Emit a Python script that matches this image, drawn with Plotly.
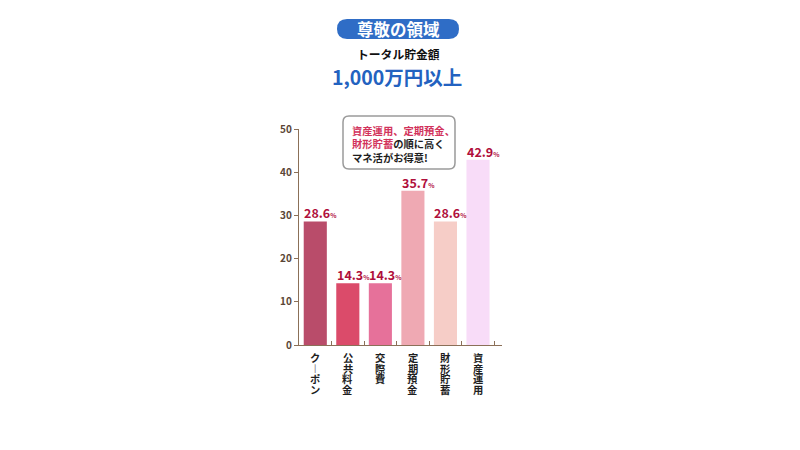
import plotly.graph_objects as go

# ---- data ----
categories = ["クーポン", "公共料金", "交際費", "定期預金", "財形貯蓄", "資産運用"]
values = [28.6, 14.3, 14.3, 35.7, 28.6, 42.9]
y_ticks = [0, 10, 20, 30, 40, 50]
title_badge = "尊敬の領域"
title_sub = "トータル貯金額"
title_main = "1,000万円以上"

# ---- style ----
bar_colors = ["#b94c6a", "#db4b6a", "#e6719a", "#efa9b3", "#f6cdc7", "#f8dcf8"]
label_color = "#b0103c"
axis_color = "#8b7058"
FONT = "Noto Sans CJK JP"

W_FIG, H_FIG = 800, 450
L, R, T, B = 299, 298, 129, 105
PW = W_FIG - L - R
PH = H_FIG - T - B


def px(x):
    return (x - L) / PW


def py(y):
    return (H_FIG - B - y) / PH


def rounded_rect(x0, y0, x1, y1, r):
    pts = [
        ("M", [(x0 + r, y0)]),
        ("L", [(x1 - r, y0)]),
        ("Q", [(x1, y0), (x1, y0 + r)]),
        ("L", [(x1, y1 - r)]),
        ("Q", [(x1, y1), (x1 - r, y1)]),
        ("L", [(x0 + r, y1)]),
        ("Q", [(x0, y1), (x0, y1 - r)]),
        ("L", [(x0, y0 + r)]),
        ("Q", [(x0, y0), (x0 + r, y0)]),
    ]
    s = ""
    for cmd, ps in pts:
        s += cmd + " " + " ".join(f"{px(a):.5f},{py(b):.5f}" for a, b in ps) + " "
    return s + "Z"


fig = go.Figure()
fig.add_trace(go.Bar(
    x=categories, y=values,
    marker=dict(color=bar_colors, line=dict(width=0)),
    hoverinfo="skip",
))

fig.update_layout(
    width=W_FIG, height=H_FIG,
    margin=dict(l=L, r=R, t=T, b=B, pad=0),
    paper_bgcolor="white", plot_bgcolor="white",
    bargap=0.29, showlegend=False,
    font=dict(family=FONT),
)
fig.update_xaxes(
    showline=True, linecolor=axis_color, linewidth=1.2,
    ticks="inside", ticklen=4, tickcolor=axis_color, tickwidth=1,
    tickson="boundaries", showticklabels=False, showgrid=False,
)
fig.update_yaxes(
    range=[0, 50], tickvals=y_ticks,
    showline=True, linecolor=axis_color, linewidth=1.2,
    ticks="outside", ticklen=4, tickcolor=axis_color, tickwidth=1,
    tickfont=dict(size=10, color="#5b4636", family=FONT, weight="bold"),
    showgrid=False, zeroline=False,
)

ann = []
# value labels
for c, v in zip(categories, values):
    ann.append(dict(
        x=c, y=v, xref="x", yref="y", xanchor="left", yanchor="bottom",
        xshift=-13, yshift=-3, showarrow=False,
        text=f"<b>{v}</b><span style='font-size:6.5px'><b>%</b></span>",
        font=dict(size=12.5, color=label_color, family=FONT),
    ))

# vertical category labels (upright characters stacked top to bottom)
for c in categories:
    for j, ch in enumerate(c):
        disp = "︱" if ch == "ー" else ch
        ann.append(dict(
            x=c, y=0, xref="x", yref="y", xanchor="center", yanchor="top",
            yshift=-3 - j * 10.5, showarrow=False, text=disp,
            font=dict(size=10.3, color="#1e1e1e", family=FONT, weight="bold"),
        ))

# titles
ann.append(dict(x=px(398), y=py(29), xref="paper", yref="paper", showarrow=False,
                text=f"<b>{title_badge}</b>", xanchor="center", yanchor="middle",
                font=dict(size=16.5, color="white", family=FONT)))
ann.append(dict(x=px(398), y=py(54), xref="paper", yref="paper", showarrow=False,
                text=f"<b>{title_sub}</b>", xanchor="center", yanchor="middle",
                font=dict(size=11.8, color="#111111", family=FONT)))
ann.append(dict(x=px(397), y=py(76.5), xref="paper", yref="paper", showarrow=False,
                text=f"<b>{title_main}</b>", xanchor="center", yanchor="middle",
                font=dict(size=19.5, color="#2362c0", family=FONT)))

# callout text
red = "#d2335c"
call = (f"<span style='color:{red}'><b>資産運用、定期預金、</b></span><br>"
        f"<span style='color:{red}'><b>財形貯蓄</b></span><b>の順に高く</b><br>"
        f"<b>マネ活がお得意!</b>")
ann.append(dict(x=px(350), y=py(144), xref="paper", yref="paper", showarrow=False,
                text=call, align="left", xanchor="left", yanchor="middle",
                font=dict(size=10.3, color="#1e1e1e", family=FONT)))

fig.update_layout(annotations=ann)

fig.add_shape(type="path", xref="paper", yref="paper",
              path=rounded_rect(337, 19, 459, 39, 10),
              fillcolor="#2f6dc6", line=dict(width=0), layer="below")
fig.add_shape(type="path", xref="paper", yref="paper",
              path=rounded_rect(343, 116, 455, 169, 6),
              fillcolor="white", line=dict(color="#9a9a9a", width=1.5), layer="above")

fig.write_html("out.html")
